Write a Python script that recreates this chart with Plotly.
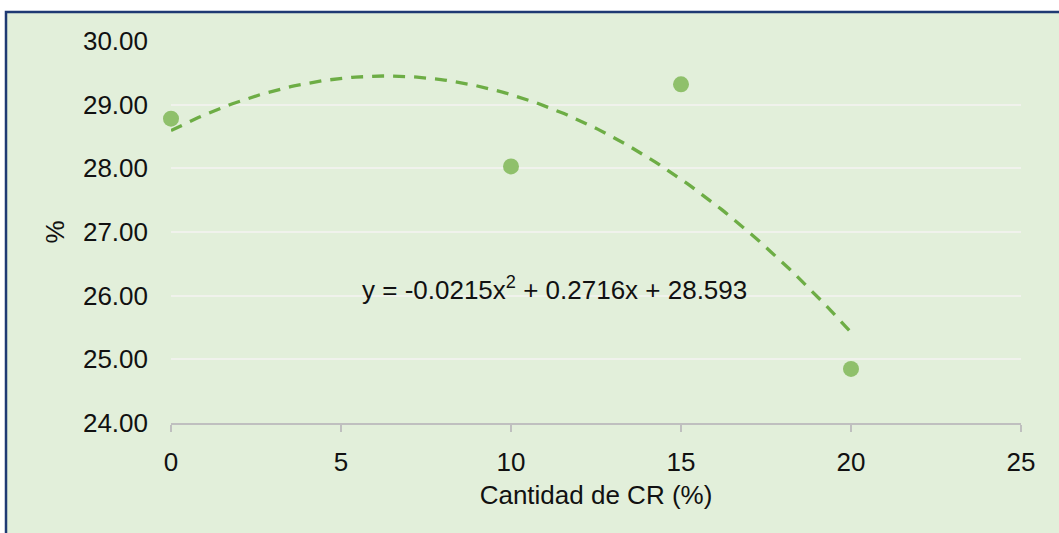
import numpy as np
import plotly.graph_objects as go

# Measured points
cantidad_cr = [0, 10, 15, 20]
porcentaje = [28.78, 28.03, 29.32, 24.85]

# Polynomial trendline coefficients (a*x^2 + b*x + c)
trend_coefs = [-0.0215, 0.2716, 28.593]
trend_label = "y = -0.0215x<sup>2</sup> + 0.2716x + 28.593"

x_ticks = [0, 5, 10, 15, 20, 25]
y_ticks = [24, 25, 26, 27, 28, 29, 30]
y_tick_text = [f"{v:.2f}" for v in y_ticks]

W, H = 1059, 533
ML, MR, MT, MB = 171, 38, 41, 110
PW, PH = W - ML - MR, H - MT - MB

FONT = "Liberation Sans, Arial, sans-serif"
BG = "#E2EFDA"

xt = np.linspace(min(cantidad_cr), max(cantidad_cr), 200)
yt = np.polyval(trend_coefs, xt)

fig = go.Figure()
fig.add_trace(go.Scatter(
    x=cantidad_cr, y=porcentaje, mode="markers",
    marker=dict(color="#8FC06B", size=16, line=dict(width=0)),
    cliponaxis=False, showlegend=False,
))
fig.add_trace(go.Scatter(
    x=xt, y=yt, mode="lines",
    line=dict(color="#6DAD45", width=3.3, dash="12px,9px"),
    cliponaxis=False, hoverinfo="skip", showlegend=False,
))

# Chart area frame (extends past the right and bottom edges)
fig.add_shape(
    type="rect", xref="paper", yref="paper", layer="below",
    x0=(6 - ML) / PW, x1=(W + 20 - ML) / PW,
    y0=-(H + 20 - (H - MB)) / PH, y1=(H - MB - 12) / PH,
    line=dict(color="#1F3A73", width=2.5), fillcolor=BG,
)

fig.add_annotation(
    x=11.29, y=26.12, xref="x", yref="y", text=trend_label,
    showarrow=False, xanchor="center", yanchor="middle",
    font=dict(family=FONT, size=26, color="#111111"),
)

fig.update_layout(
    width=W, height=H,
    margin=dict(l=ML, r=MR, t=MT, b=MB, pad=0),
    paper_bgcolor="white", plot_bgcolor="rgba(0,0,0,0)",
    font=dict(family=FONT, size=26, color="#111111"),
    showlegend=False,
)
fig.update_xaxes(
    range=[0, 25], tickvals=x_ticks, showgrid=False, zeroline=False,
    showline=True, linecolor="#BFBFBF", linewidth=2,
    ticks="outside", ticklen=7, tickwidth=2, tickcolor="#BFBFBF",
    ticklabelstandoff=8,
    tickfont=dict(family=FONT, size=26, color="#111111"),
    title=dict(text="Cantidad de CR (%)", standoff=10,
               font=dict(family=FONT, size=26, color="#111111")),
)
fig.update_yaxes(
    range=[24, 30], tickvals=y_ticks, ticktext=y_tick_text,
    showgrid=True, gridcolor="#F0F2EC", gridwidth=2, zeroline=False,
    showline=False, ticks="", ticklabelstandoff=22,
    tickfont=dict(family=FONT, size=26, color="#111111"),
    title=dict(text="%", standoff=10,
               font=dict(family=FONT, size=26, color="#111111")),
)

fig.write_html("out.html")
